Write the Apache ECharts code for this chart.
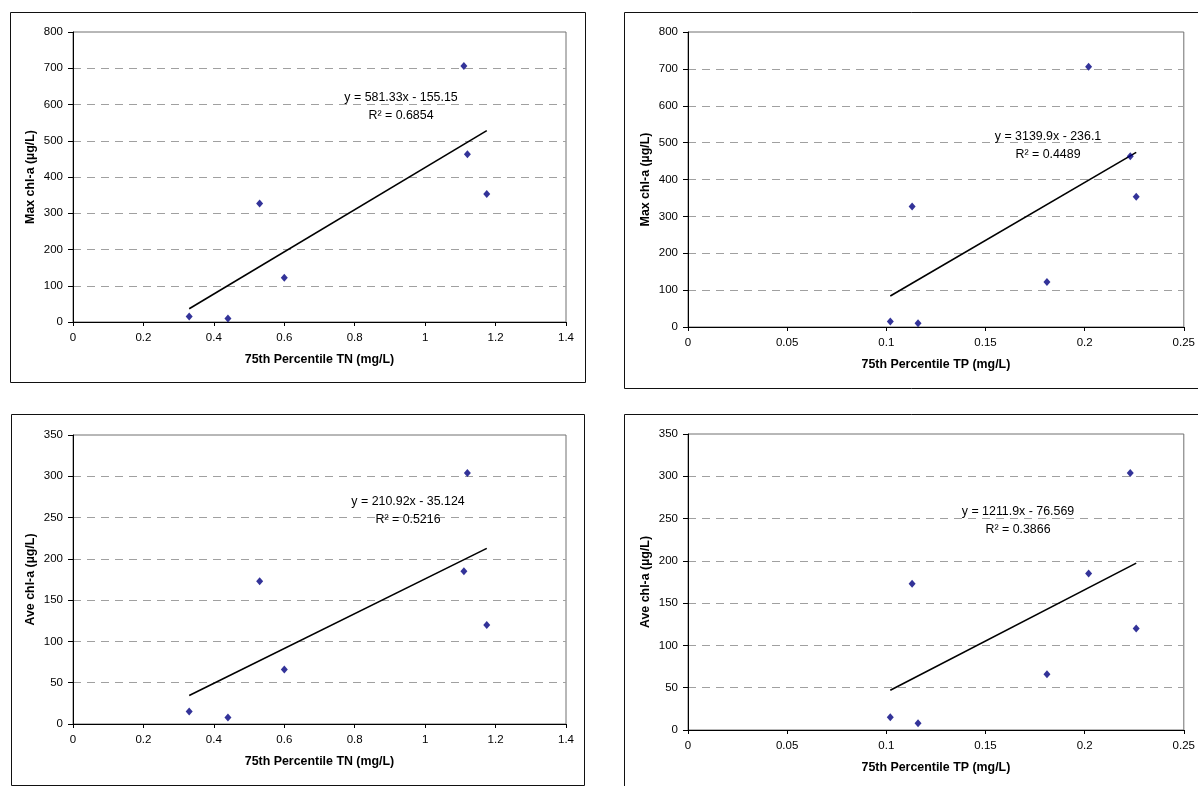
<!DOCTYPE html>
<html>
<head>
<meta charset="utf-8">
<script src="https://cdn.jsdelivr.net/npm/echarts@6/dist/echarts.min.js"></script>
<style>
  html, body { margin: 0; padding: 0; background: #fff; }
  #chart { width: 1198px; height: 786px; }
</style>
</head>
<body>
<div id="chart"></div>
<script>
// 75th percentile nutrients per site
const tn = [0.33, 0.44, 0.53, 0.60, 1.11, 1.12, 1.175];
const tp = [0.102, 0.116, 0.113, 0.181, 0.202, 0.223, 0.226];
// chlorophyll-a per site (µg/L)
const maxChl = [15, 10, 327, 122, 706, 463, 353];
const aveChl = [15, 8, 173, 66, 185, 304, 120];

// trendline coefficients as printed on the chart [slope, intercept]
const fitTnMax = [581.33, -155.15];
const fitTpMax = [3139.9, -236.1];
const fitTnAve = [210.92, -35.124];
const fitTpAve = [1211.9, -76.569];

const eqLabels = [
  ['y = 581.33x - 155.15', 'R² = 0.6854'],
  ['y = 3139.9x - 236.1', 'R² = 0.4489'],
  ['y = 210.92x - 35.124', 'R² = 0.5216'],
  ['y = 1211.9x - 76.569', 'R² = 0.3866']
];

const xTitleTN = '75th Percentile TN (mg/L)';
const xTitleTP = '75th Percentile TP (mg/L)';
const yTitleMax = 'Max chl-a (µg/L)';
const yTitleAve = 'Ave chl-a (µg/L)';

const FONT = "'Liberation Sans', Arial, sans-serif";

const panels = [
  { x: tn, y: maxChl, fit: fitTnMax, xMax: 1.4, xInt: 0.2, yMax: 800, yInt: 100, xTitle: xTitleTN, yTitle: yTitleMax,
    grid: { left: 73, top: 32, width: 493, height: 290 }, box: [10.5, 12.5, 575, 370], eq: [401, 98] },
  { x: tp, y: maxChl, fit: fitTpMax, xMax: 0.25, xInt: 0.05, yMax: 800, yInt: 100, xTitle: xTitleTP, yTitle: yTitleMax,
    grid: { left: 688, top: 32, width: 499, height: 295 }, box: [624.5, 12.5, 600, 376], eq: [1048, 137] },
  { x: tn, y: aveChl, fit: fitTnAve, xMax: 1.4, xInt: 0.2, yMax: 350, yInt: 50, xTitle: xTitleTN, yTitle: yTitleAve,
    grid: { left: 73, top: 435, width: 493, height: 289 }, box: [11.5, 414.5, 573, 371], eq: [408, 502] },
  { x: tp, y: aveChl, fit: fitTpAve, xMax: 0.25, xInt: 0.05, yMax: 350, yInt: 50, xTitle: xTitleTP, yTitle: yTitleAve,
    grid: { left: 688, top: 434, width: 499, height: 296 }, box: [624.5, 414.5, 600, 390], eq: [1018, 512] }
];

function trendPoints(xs, fit) {
  const lo = Math.min(...xs);
  const hi = Math.max(...xs);
  return [[lo, fit[0] * lo + fit[1]], [hi, fit[0] * hi + fit[1]]];
}

const grid = [];
const xAxis = [];
const yAxis = [];
const series = [];
const graphic = [];

panels.forEach((p, i) => {
  grid.push(Object.assign({ show: true, borderColor: '#707070', borderWidth: 1 }, p.grid));

  xAxis.push({
    type: 'value', gridIndex: i, min: 0, max: p.xMax, interval: p.xInt,
    name: p.xTitle, nameLocation: 'middle', nameGap: 32,
    nameTextStyle: { fontFamily: FONT, fontSize: 12.4, fontWeight: 'bold', color: '#000' },
    axisLine: { show: true, onZero: false, lineStyle: { color: '#000', width: 1 } },
    axisTick: { show: true, inside: false, length: 4, lineStyle: { color: '#000' } },
    axisLabel: { fontFamily: FONT, fontSize: 11.5, color: '#000', margin: 10 },
    splitLine: { show: false }
  });

  yAxis.push({
    type: 'value', gridIndex: i, min: 0, max: p.yMax, interval: p.yInt,
    name: p.yTitle, nameLocation: 'middle', nameGap: 36, nameRotate: 90,
    nameTextStyle: { fontFamily: FONT, fontSize: 12.4, fontWeight: 'bold', color: '#000' },
    axisLine: { show: true, onZero: false, lineStyle: { color: '#000', width: 1 } },
    axisTick: { show: true, inside: false, length: 5, lineStyle: { color: '#000' } },
    axisLabel: { fontFamily: FONT, fontSize: 11.5, color: '#000', margin: 10 },
    splitLine: { show: true, showMinLine: false, showMaxLine: false,
      lineStyle: { color: '#a0a0a0', width: 1, type: [8, 6] } }
  });

  series.push({
    type: 'scatter', xAxisIndex: i, yAxisIndex: i,
    data: p.x.map((v, k) => [v, p.y[k]]),
    symbol: 'diamond', symbolSize: [7, 8],
    itemStyle: { color: '#000080' },
    z: 3, silent: true
  });

  series.push({
    type: 'line', xAxisIndex: i, yAxisIndex: i,
    data: trendPoints(p.x, p.fit),
    showSymbol: false, symbol: 'none',
    lineStyle: { color: '#000', width: 1.6 },
    z: 2, silent: true
  });

  graphic.push({
    type: 'rect', shape: { x: p.box[0], y: p.box[1], width: p.box[2], height: p.box[3] },
    style: { fill: 'none', stroke: '#111', lineWidth: 1 }, z: 0, silent: true
  });
  graphic.push({
    type: 'text', x: p.eq[0], y: p.eq[1], z: 10,
    style: { text: eqLabels[i][0], fontFamily: FONT, fontSize: 12.4, fill: '#000', align: 'center', verticalAlign: 'middle' }
  });
  graphic.push({
    type: 'text', x: p.eq[0], y: p.eq[1] + 18, z: 10,
    style: { text: eqLabels[i][1], fontFamily: FONT, fontSize: 12.4, fill: '#000', align: 'center', verticalAlign: 'middle' }
  });
});

const chart = echarts.init(document.getElementById('chart'), null, { renderer: 'canvas' });
chart.setOption({
  animation: false,
  backgroundColor: '#fff',
  grid, xAxis, yAxis, series, graphic
});
</script>
</body>
</html>
